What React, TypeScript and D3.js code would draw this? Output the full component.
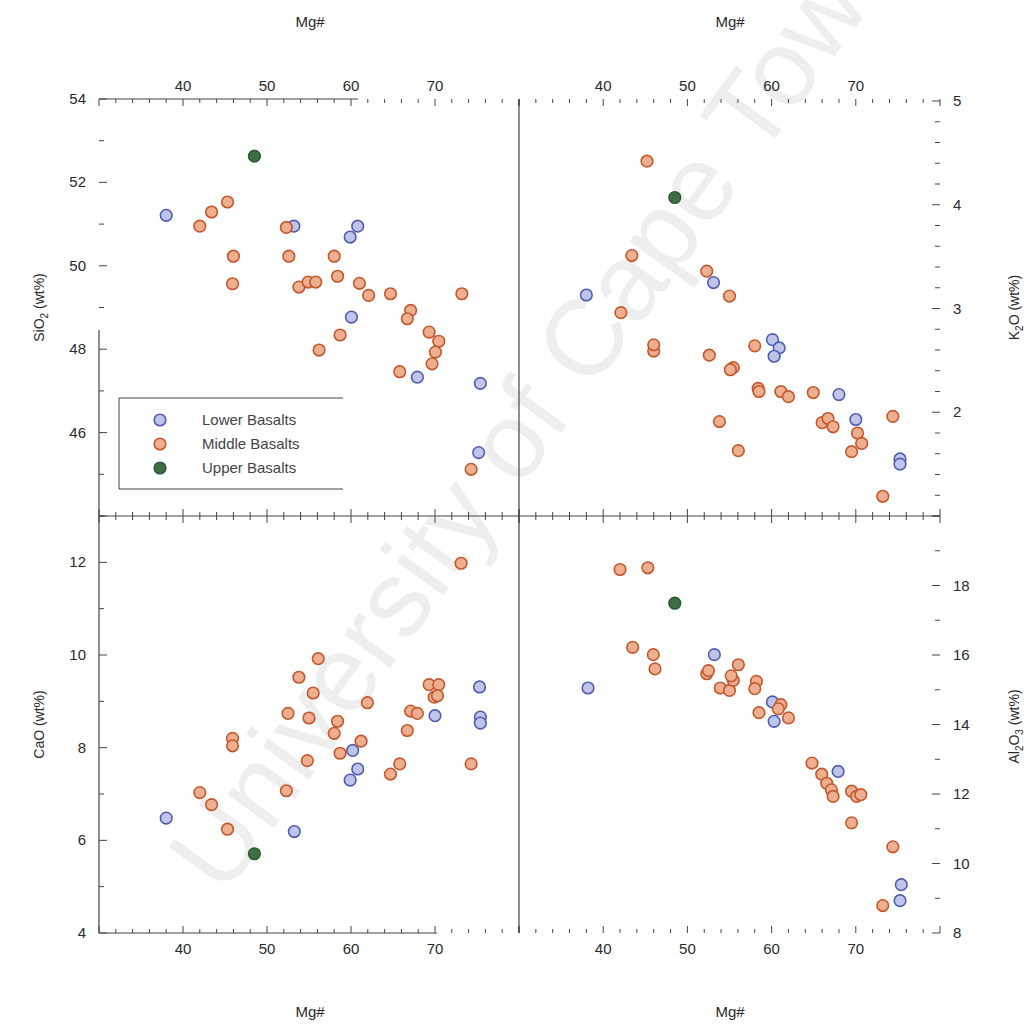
import React from 'react';
import * as d3 from 'd3';

type P = [number, number];

const mgTickLabels = [40, 50, 60, 70];
const sio2TickLabels = [46, 48, 50, 52, 54];
const k2oTickLabels = [2, 3, 4, 5];
const caoTickLabels = [4, 6, 8, 10, 12];
const al2o3TickLabels = [8, 10, 12, 14, 16, 18];

const seriesNames = ['Lower Basalts', 'Middle Basalts', 'Upper Basalts'];
const seriesFill = ['#bfc5ea', '#eeae90', '#3e6f43'];
const seriesStroke = ['#4f5cb0', '#c4572b', '#2f5a35'];

// SiO2 vs Mg#
const sio2Lower: P[] = [[38.0, 51.21], [53.2, 50.95], [59.9, 50.69], [60.8, 50.95], [60.05, 48.77], [67.9, 47.33], [75.4, 47.18], [75.2, 45.52]];
const sio2Middle: P[] = [[42.0, 50.95], [43.4, 51.29], [45.3, 51.53], [46.0, 50.23], [45.9, 49.57], [52.3, 50.92], [52.6, 50.23], [53.8, 49.49], [54.9, 49.61], [55.8, 49.61], [56.2, 47.98], [58.0, 50.23], [58.4, 49.75], [58.7, 48.34], [61.0, 49.58], [62.1, 49.29], [64.7, 49.33], [67.1, 48.93], [66.7, 48.73], [65.8, 47.46], [69.3, 48.41], [70.45, 48.19], [70.05, 47.93], [69.65, 47.65], [73.2, 49.33], [74.3, 45.12]];
const sio2Upper: P[] = [[48.5, 52.63]];

// K2O vs Mg#
const k2oLower: P[] = [[38.0, 3.13], [53.1, 3.25], [60.1, 2.70], [60.9, 2.62], [60.3, 2.54], [68.0, 2.17], [70.0, 1.93], [75.25, 1.55], [75.25, 1.50]];
const k2oMiddle: P[] = [[45.2, 4.42], [43.4, 3.51], [42.1, 2.96], [46.0, 2.59], [46.0, 2.65], [52.3, 3.36], [55.0, 3.12], [52.6, 2.55], [55.45, 2.43], [55.1, 2.41], [58.0, 2.64], [58.4, 2.23], [58.5, 2.20], [61.1, 2.20], [62.0, 2.15], [64.95, 2.19], [53.8, 1.91], [56.05, 1.63], [66.0, 1.90], [66.7, 1.94], [67.3, 1.86], [70.2, 1.80], [70.7, 1.70], [69.5, 1.62], [74.4, 1.96], [73.2, 1.19]];
const k2oUpper: P[] = [[48.5, 4.07]];

// CaO vs Mg#
const caoLower: P[] = [[38.0, 6.48], [53.25, 6.19], [60.2, 7.94], [60.8, 7.54], [59.9, 7.30], [70.0, 8.69], [75.3, 9.31], [75.4, 8.66], [75.4, 8.53]];
const caoMiddle: P[] = [[42.0, 7.03], [43.4, 6.77], [45.3, 6.24], [45.9, 8.20], [45.9, 8.04], [52.3, 7.07], [52.5, 8.74], [53.8, 9.52], [56.1, 9.92], [55.5, 9.18], [55.0, 8.64], [54.8, 7.72], [58.4, 8.57], [58.0, 8.31], [58.7, 7.88], [61.2, 8.14], [61.95, 8.97], [64.7, 7.43], [65.8, 7.65], [66.7, 8.37], [67.1, 8.79], [67.9, 8.74], [69.3, 9.36], [70.45, 9.36], [69.9, 9.09], [70.3, 9.12], [73.1, 11.98], [74.3, 7.65]];
const caoUpper: P[] = [[48.5, 5.71]];

// Al2O3 vs Mg#
const al2o3Lower: P[] = [[38.2, 15.05], [53.2, 16.01], [60.1, 14.65], [60.3, 14.09], [67.9, 12.65], [75.4, 9.39], [75.25, 8.93]];
const al2o3Middle: P[] = [[42.0, 18.46], [45.3, 18.51], [43.5, 16.22], [45.95, 16.01], [46.15, 15.6], [52.3, 15.46], [52.5, 15.55], [56.05, 15.72], [53.9, 15.05], [55.0, 14.98], [55.45, 15.27], [55.2, 15.4], [58.2, 15.24], [58.0, 15.03], [58.5, 14.34], [61.1, 14.57], [60.8, 14.45], [62.0, 14.19], [64.8, 12.89], [65.95, 12.57], [66.55, 12.31], [67.1, 12.12], [67.3, 11.93], [69.5, 12.08], [70.1, 11.93], [70.6, 11.98], [69.5, 11.17], [74.4, 10.48], [73.2, 8.79]];
const al2o3Upper: P[] = [[48.5, 17.49]];

const W = 1029;
const H = 1027;
const X0 = 99, XC = 519, X1 = 940;
const Y0 = 99, YC = 516, Y1 = 933;

const xL = d3.scaleLinear().domain([30, 80]).range([X0, XC]);
const xR = d3.scaleLinear().domain([30, 80]).range([XC, X1]);
const ySi = d3.scaleLinear().domain([44, 54]).range([YC, Y0]);
const yK = d3.scaleLinear().domain([1, 5]).range([YC, 101]);
const yCa = d3.scaleLinear().domain([4, 13]).range([Y1, YC]);
const yAl = d3.scaleLinear().domain([8, 20]).range([Y1, YC]);

const font = '"Liberation Sans", Arial, sans-serif';
const axisColor = '#444';
const textColor = '#2a2a2a';

const panels = [
  { x: xL, y: ySi, series: [sio2Lower, sio2Middle, sio2Upper] },
  { x: xR, y: yK, series: [k2oLower, k2oMiddle, k2oUpper] },
  { x: xL, y: yCa, series: [caoLower, caoMiddle, caoUpper] },
  { x: xR, y: yAl, series: [al2o3Lower, al2o3Middle, al2o3Upper] },
];

const mgMinor = d3.range(30, 80.001, 2);

function Marker({ cx, cy, s }: { cx: number; cy: number; s: number }) {
  return <circle cx={cx} cy={cy} r={5.8} fill={seriesFill[s]} stroke={seriesStroke[s]} strokeWidth={1.6} />;
}

export default function App() {
  const ticks: React.ReactNode[] = [];
  [xL, xR].forEach((sx, k) => {
    mgMinor.forEach((m, i) => {
      const major = m % 10 === 0;
      const len = major ? 7 : 4;
      ticks.push(<line key={`t${k}-${i}`} x1={sx(m)} x2={sx(m)} y1={Y0} y2={Y0 + len} stroke={axisColor} strokeWidth={1} />);
      ticks.push(<line key={`b${k}-${i}`} x1={sx(m)} x2={sx(m)} y1={Y1} y2={Y1 - len} stroke={axisColor} strokeWidth={1} />);
      ticks.push(<line key={`c${k}-${i}`} x1={sx(m)} x2={sx(m)} y1={YC - len} y2={YC + len} stroke={axisColor} strokeWidth={1} />);
    });
  });
  ySi.ticks(10).forEach((v, i) => {
    const len = v % 2 === 0 ? 8 : 5;
    ticks.push(<line key={`ysi${i}`} x1={X0} x2={X0 + len} y1={ySi(v)} y2={ySi(v)} stroke={axisColor} />);
  });
  yCa.ticks(9).forEach((v, i) => {
    const len = v % 2 === 0 ? 8 : 5;
    ticks.push(<line key={`yca${i}`} x1={X0} x2={X0 + len} y1={yCa(v)} y2={yCa(v)} stroke={axisColor} />);
  });
  yK.ticks(20).forEach((v, i) => {
    const major = Math.abs(v - Math.round(v)) < 1e-6;
    const len = major ? 8 : 5;
    ticks.push(<line key={`yk${i}`} x1={X1} x2={X1 - len} y1={yK(v)} y2={yK(v)} stroke={axisColor} />);
  });
  yAl.ticks(12).forEach((v, i) => {
    const len = v % 2 === 0 ? 8 : 5;
    ticks.push(<line key={`yal${i}`} x1={X1} x2={X1 - len} y1={yAl(v)} y2={yAl(v)} stroke={axisColor} />);
  });

  const tickText = { fontFamily: font, fontSize: 15, fill: textColor } as const;

  return (
    <svg width={W} height={H} style={{ position: 'absolute', left: 0, top: 0, background: '#fff' }}>
      <rect x={0} y={0} width={W} height={H} fill="#fff" />
      {/* watermark */}
      <text
        x={535}
        y={405}
        transform="rotate(-54 535 405)"
        textAnchor="middle"
        dominantBaseline="central"
        fontFamily={font}
        fontSize={108}
        fill="#eeeeee"
      >
        University of Cape Town
      </text>

      {/* axis lines */}
      <line x1={X0} x2={358} y1={Y0} y2={Y0} stroke={axisColor} strokeWidth={1.2} />
      <line x1={X0} x2={X0} y1={330} y2={Y1} stroke={axisColor} strokeWidth={1.2} />
      <line x1={XC} x2={XC} y1={Y0} y2={Y1} stroke={axisColor} strokeWidth={1.2} />
      <line x1={X0} x2={X1} y1={YC} y2={YC} stroke={axisColor} strokeWidth={1.2} />
      <line x1={X0} x2={437} y1={Y1} y2={Y1} stroke={axisColor} strokeWidth={1.2} />
      {ticks}

      {/* Mg# tick labels */}
      {[xL, xR].map((sx, k) =>
        mgTickLabels.map((m) => (
          <g key={`ml${k}-${m}`}>
            <text x={sx(m)} y={91} textAnchor="middle" {...tickText}>{m}</text>
            <text x={sx(m)} y={954} textAnchor="middle" {...tickText}>{m}</text>
          </g>
        ))
      )}
      {sio2TickLabels.map((v) => (
        <text key={`sl${v}`} x={86} y={ySi(v) + 5} textAnchor="end" {...tickText}>{v}</text>
      ))}
      {caoTickLabels.map((v) => (
        <text key={`cl${v}`} x={86} y={yCa(v) + 5} textAnchor="end" {...tickText}>{v}</text>
      ))}
      {k2oTickLabels.map((v) => (
        <text key={`kl${v}`} x={953} y={yK(v) + 5} textAnchor="start" {...tickText}>{v}</text>
      ))}
      {al2o3TickLabels.map((v) => (
        <text key={`al${v}`} x={953} y={yAl(v) + 5} textAnchor="start" {...tickText}>{v}</text>
      ))}

      {/* axis titles */}
      {[310, 730].map((cx) => (
        <g key={`mg${cx}`}>
          <text x={cx} y={27} textAnchor="middle" fontFamily={font} fontSize={15} fill={textColor}>Mg#</text>
          <text x={cx} y={1017} textAnchor="middle" fontFamily={font} fontSize={15} fill={textColor}>Mg#</text>
        </g>
      ))}
      <text transform={`translate(44 ${(Y0 + YC) / 2}) rotate(-90)`} textAnchor="middle" fontFamily={font} fontSize={14} fill={textColor}>
        SiO<tspan fontSize={10} dy={4}>2</tspan><tspan dy={-4}> (wt%)</tspan>
      </text>
      <text transform={`translate(44 ${(YC + Y1) / 2}) rotate(-90)`} textAnchor="middle" fontFamily={font} fontSize={14} fill={textColor}>
        CaO (wt%)
      </text>
      <text transform={`translate(1019 ${(Y0 + YC) / 2}) rotate(-90)`} textAnchor="middle" fontFamily={font} fontSize={14} fill={textColor}>
        K<tspan fontSize={10} dy={4}>2</tspan><tspan dy={-4}>O (wt%)</tspan>
      </text>
      <text transform={`translate(1019 ${(YC + Y1) / 2 + 2}) rotate(-90)`} textAnchor="middle" fontFamily={font} fontSize={14} fill={textColor}>
        Al<tspan fontSize={10} dy={4}>2</tspan><tspan dy={-4}>O</tspan><tspan fontSize={10} dy={4}>3</tspan><tspan dy={-4}> (wt%)</tspan>
      </text>

      {/* data */}
      {panels.map((p, pi) =>
        p.series.map((pts, s) =>
          pts.map((d, i) => <Marker key={`p${pi}-${s}-${i}`} cx={p.x(d[0])} cy={p.y(d[1])} s={s} />)
        )
      )}

      {/* legend */}
      <g>
        <line x1={119} x2={343} y1={398} y2={398} stroke={axisColor} strokeWidth={1} />
        <line x1={119} x2={119} y1={398} y2={489} stroke={axisColor} strokeWidth={1} />
        <line x1={119} x2={343} y1={489} y2={489} stroke={axisColor} strokeWidth={1.2} />
        {seriesNames.map((n, s) => (
          <g key={n}>
            <Marker cx={160} cy={420 + s * 24} s={s} />
            <text x={202} y={425 + s * 24} fontFamily={font} fontSize={15} fill="#444">{n}</text>
          </g>
        ))}
      </g>
    </svg>
  );
}
